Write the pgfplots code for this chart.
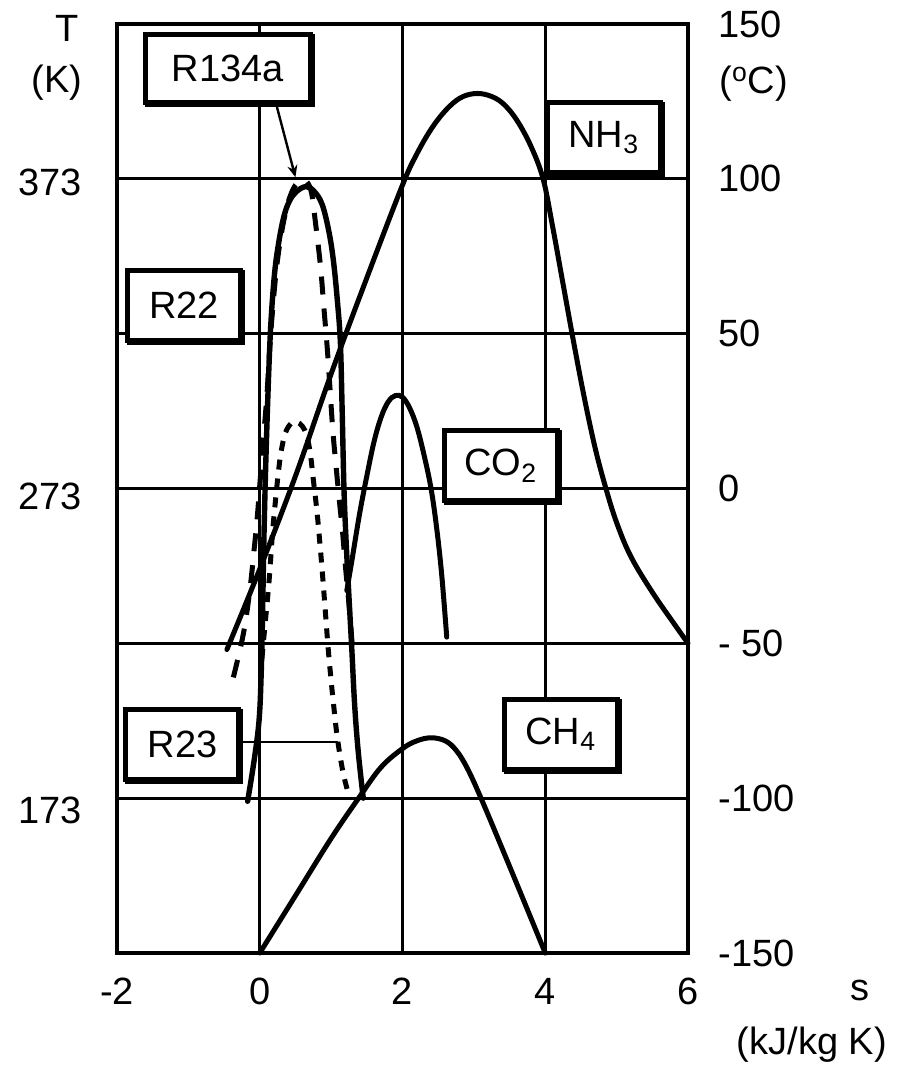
\documentclass[border=0pt]{standalone}
\usepackage{pgfplots}
\pgfplotsset{compat=1.18}
\usepackage{fontspec}
\setmainfont{Liberation Sans}
\usetikzlibrary{shadows,arrows.meta}
\begin{document}
\fontsize{19}{22}\selectfont
\begin{tikzpicture}[
  lbl/.style={draw=black, fill=white, line width=2.5pt, inner sep=0pt,
    minimum width=56.5pt, minimum height=35pt, font=\fontsize{19}{22}\selectfont,
    general shadow={draw=black, fill=black, line width=2.5pt, shadow xshift=1pt, shadow yshift=-1pt}},
  txt/.style={inner sep=0pt, font=\fontsize{19}{22}\selectfont}
]
\useasboundingbox (-58.5pt,-57pt) rectangle (394.5pt,476.5pt);
\begin{axis}[
  at={(0pt,0pt)}, anchor=south west,
  scale only axis, width=285.5pt, height=464.5pt,
  xmin=-2, xmax=6, ymin=-150, ymax=150,
  xtick={-2,0,2,4,6}, xticklabels={-2,0,2,4,6},
  ytick={-150,-100,-50,0,50,100,150},
  yticklabels={-150,-100,- 50,0,50,100,150},
  yticklabel pos=right,
  major tick length=0pt,
  grid=major,
  major grid style={black, line width=1.6pt},
  axis line style={black, line width=2pt},
  ticklabel style={font=\fontsize{19}{22}\selectfont, inner sep=0pt},
  xticklabel style={anchor=north, yshift=-12.5pt},
  yticklabel style={anchor=west, xshift=15pt},
  clip=false,
]
% NH3
\addplot[black, line width=2.5pt, line cap=round, smooth, tension=0.6] coordinates {
(-0.46,-52) (0,-26) (0.5,4) (1.0,37) (1.5,68) (2.0,98) (2.2,108) (2.4,116)
(2.6,122) (2.8,126) (3.0,127.5) (3.2,127) (3.4,124.5) (3.6,119) (3.8,110.5)
(3.97,100) (4.1,85) (4.25,66) (4.4,47) (4.55,29) (4.7,13) (4.85,0) (5.0,-11)
(5.2,-22) (5.5,-33.5) (5.8,-43.5) (6.0,-50)};
% R22
\addplot[black, line width=2.7pt, line cap=round, smooth, tension=0.6] coordinates {
(-0.17,-101) (-0.08,-88) (-0.01,-75) (0.02,-60) (0.04,-40) (0.055,-20) (0.075,0)
(0.1,20) (0.13,40) (0.16,55) (0.21,70) (0.27,80) (0.34,88) (0.42,93) (0.52,96)
(0.65,97.5) (0.76,96) (0.87,92) (0.96,84) (1.03,74) (1.09,60) (1.13,47)
(1.155,25) (1.18,0) (1.21,-17) (1.25,-35) (1.29,-52) (1.33,-70) (1.38,-85) (1.45,-100)};
% R134a
\addplot[black, line width=2.5pt, dash pattern=on 9pt off 7pt, smooth, tension=0.6] coordinates {
(-0.37,-61) (-0.23,-47) (-0.14,-33) (-0.08,-20) (-0.03,-8) (0.04,13) (0.1,30)
(0.16,52) (0.25,74) (0.37,90) (0.5,98) (0.63,99.5) (0.72,96) (0.78,86) (0.85,72)
(0.9,58) (0.95,44) (1.02,20) (1.07,7) (1.12,-5) (1.16,-14) (1.2,-25) (1.26,-40)
(1.31,-55)};
% R23
\addplot[black, line width=2.5pt, dash pattern=on 5pt off 4.5pt, smooth, tension=0.6] coordinates {
(0.03,-55) (0.07,-45) (0.13,-30) (0.18,-14) (0.22,-4) (0.26,5) (0.3,12) (0.36,18)
(0.44,21) (0.52,21.5) (0.6,20) (0.66,17) (0.71,11) (0.75,3) (0.8,-7) (0.84,-17)
(0.88,-28) (0.92,-40) (0.96,-52) (1.0,-62) (1.04,-71) (1.09,-81) (1.17,-92)
(1.26,-100)};
% CO2
\addplot[black, line width=2.5pt, line cap=round, smooth, tension=0.6] coordinates {
(1.22,-33) (1.3,-22) (1.4,-8) (1.5,4) (1.6,15) (1.7,23) (1.8,28) (1.9,30)
(2.0,29.5) (2.1,26) (2.2,20) (2.3,11) (2.4,0) (2.48,-13) (2.55,-28) (2.62,-48)};
% CH4
\addplot[black, line width=2.5pt, line cap=round, smooth, tension=0.6] coordinates {
(0,-150) (0.5,-131.5) (1.0,-113) (1.4,-99.5) (1.7,-90) (2.0,-84) (2.2,-81.5)
(2.4,-80.5) (2.6,-81.5) (2.75,-84.5) (2.9,-90) (3.1,-100) (3.5,-122) (4.0,-150)};
% leaders
\draw[line width=1.2pt, -{Stealth[length=6pt,width=5pt]}] (axis cs:0.241,123.2) -- (axis cs:0.5,100.5);
\draw[line width=1.2pt] (axis cs:-0.3,-81.9) -- (axis cs:1.1,-81.9);
% boxes
\node[lbl, minimum width=82.5pt, minimum height=34pt] at (axis cs:-0.445,135.6) {R134a};
\node[lbl] at (axis cs:-1.062,59.2) {R22};
\node[lbl] at (axis cs:4.82,113.3) {NH\textsubscript{3}};
\node[lbl] at (axis cs:3.378,7.4) {CO\textsubscript{2}};
\node[lbl] at (axis cs:4.218,-79.4) {CH\textsubscript{4}};
\node[lbl] at (axis cs:-1.083,-82.8) {R23};
% outer labels
\node[txt] at (axis cs:-2.70,148.7) {T};
\node[txt] at (axis cs:-2.84,131.2) {(K)};
\node[txt, anchor=east] at (axis cs:-2.49,98.9) {373};
\node[txt, anchor=east] at (axis cs:-2.49,-2.4) {273};
\node[txt, anchor=east] at (axis cs:-2.49,-103.8) {173};
\node[txt] at (axis cs:6.92,130.6) {(\textsuperscript{o}C)};
\node[txt] at (axis cs:8.406,-162) {s};
\node[txt] at (axis cs:7.734,-179.7) {(kJ/kg K)};
\end{axis}
\end{tikzpicture}
\end{document}
